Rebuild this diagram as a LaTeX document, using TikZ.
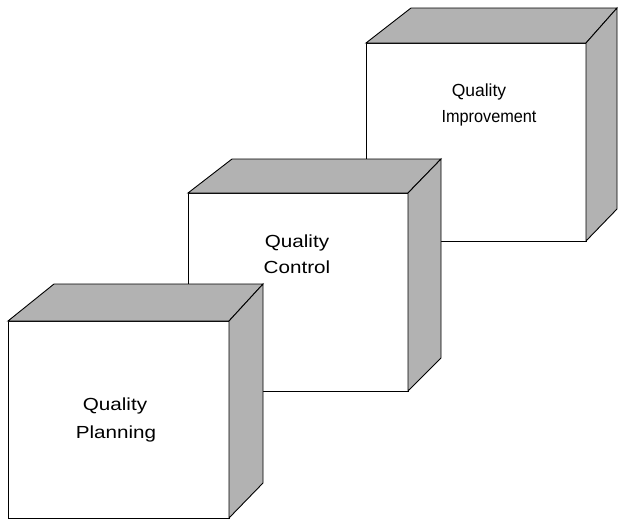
\documentclass[tikz,border=0pt]{standalone}
\usepackage{fontspec}
\setmainfont{Liberation Sans}
\definecolor{sidegray}{RGB}{178,178,178}
\begin{document}
\begin{tikzpicture}[x=1pt,y=-1pt,
  edge/.style={draw=black,line width=0.9pt,line join=miter},
  frontface/.style={edge,fill=white},
  sideface/.style={edge,fill=sidegray},
  lbl/.style={anchor=base,inner sep=0pt,font=\fontsize{17.5}{20}\selectfont}]
\useasboundingbox (0,0) rectangle (618,520);
% ---- Cube 3: Quality Improvement ----
\coordinate (c3ftl) at (366,43); \coordinate (c3ftr) at (586,43);
\coordinate (c3fbr) at (586,241); \coordinate (c3fbl) at (366,241);
\coordinate (c3btl) at (411,8); \coordinate (c3btr) at (617,8);
\coordinate (c3bbr) at (617,209);
\path[frontface] (c3ftl) -- (c3ftr) -- (c3fbr) -- (c3fbl) -- cycle;
\path[sideface] (c3ftl) -- (c3btl) -- (c3btr) -- (c3ftr) -- cycle;
\path[sideface] (c3ftr) -- (c3btr) -- (c3bbr) -- (c3fbr) -- cycle;
\node[lbl] (qi1) at (479,96) {\scalebox{1.0}[1]{Quality}};
\node[lbl] (qi2) at (489,122) {\scalebox{0.93}[1]{Improvement}};
% ---- Cube 2: Quality Control ----
\coordinate (c2ftl) at (188,193); \coordinate (c2ftr) at (408,193);
\coordinate (c2fbr) at (408,391); \coordinate (c2fbl) at (188,391);
\coordinate (c2btl) at (232,159); \coordinate (c2btr) at (441,159);
\coordinate (c2bbr) at (441,358);
\path[frontface] (c2ftl) -- (c2ftr) -- (c2fbr) -- (c2fbl) -- cycle;
\path[sideface] (c2ftl) -- (c2btl) -- (c2btr) -- (c2ftr) -- cycle;
\path[sideface] (c2ftr) -- (c2btr) -- (c2bbr) -- (c2fbr) -- cycle;
\node[lbl] (qc1) at (297,247) {\scalebox{1.18}[1]{Quality}};
\node[lbl] (qc2) at (297,273) {\scalebox{1.18}[1]{Control}};
% ---- Cube 1: Quality Planning ----
\coordinate (c1ftl) at (8,321); \coordinate (c1ftr) at (229,321);
\coordinate (c1fbr) at (229,518); \coordinate (c1fbl) at (8,518);
\coordinate (c1btl) at (54,284); \coordinate (c1btr) at (263,284);
\coordinate (c1bbr) at (263,483);
\path[frontface] (c1ftl) -- (c1ftr) -- (c1fbr) -- (c1fbl) -- cycle;
\path[sideface] (c1ftl) -- (c1btl) -- (c1btr) -- (c1ftr) -- cycle;
\path[sideface] (c1ftr) -- (c1btr) -- (c1bbr) -- (c1fbr) -- cycle;
\node[lbl] (qp1) at (115,410) {\scalebox{1.18}[1]{Quality}};
\node[lbl] (qp2) at (116,438) {\scalebox{1.18}[1]{Planning}};
\end{tikzpicture}
\end{document}
